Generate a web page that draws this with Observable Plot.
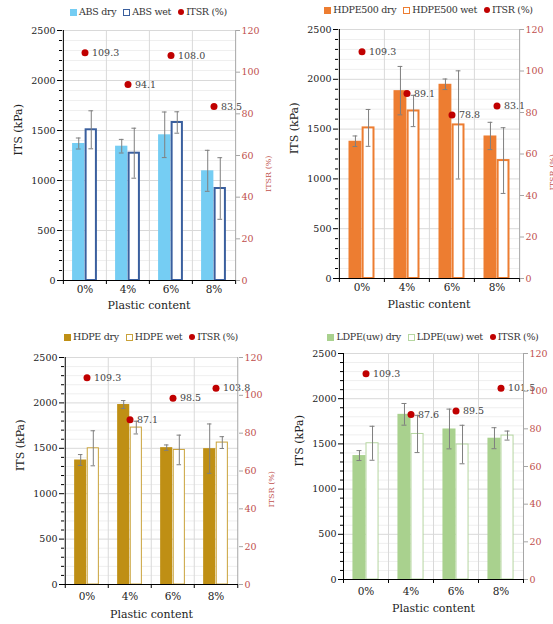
<!DOCTYPE html>
<html><head><meta charset="utf-8">
<script src="https://cdn.jsdelivr.net/npm/d3@7"></script>
<script src="https://cdn.jsdelivr.net/npm/@observablehq/plot@0.6"></script>
<style>
body{margin:0;background:#fff;font-family:"DejaVu Serif",serif;}
#root{position:relative;width:553px;height:624px;overflow:hidden;background:#fff;}
.legend{position:absolute;display:flex;justify-content:center;align-items:center;gap:7px;font-size:9.5px;color:#333;white-space:nowrap;height:14px;line-height:14px;font-family:"DejaVu Serif",serif;letter-spacing:-0.3px;}
.item{display:flex;align-items:center;}
.sw{display:inline-block;width:7px;height:7px;margin-right:2px;box-sizing:border-box;}
.dot{display:inline-block;width:6px;height:6px;border-radius:50%;margin-right:2px;background:#c00000;}
svg text{font-family:"DejaVu Serif",serif;}
</style></head><body><div id="root"></div>
<script>
// ---- data ----
const categories = ["0%", "4%", "6%", "8%"];
const itsTicks = [0, 500, 1000, 1500, 2000, 2500];
const itsrTicks = [0, 20, 40, 60, 80, 100, 120];

const absDry = [1370, 1343, 1457, 1097];
const absDryErr = [55, 68, 228, 205];
const absWet = [1507, 1273, 1580, 920];
const absWetErr = [190, 250, 107, 308];
const absItsr = [109.3, 94.1, 108.0, 83.5];

const hdpe500Dry = [1378, 1886, 1950, 1431];
const hdpe500DryErr = [53, 243, 53, 137];
const hdpe500Wet = [1512, 1682, 1542, 1184];
const hdpe500WetErr = [185, 157, 543, 330];
const hdpe500Itsr = [109.3, 89.1, 78.8, 83.1];

const hdpeDry = [1371, 1982, 1507, 1496];
const hdpeDryErr = [60, 44, 30, 272];
const hdpeWet = [1500, 1728, 1482, 1563];
const hdpeWetErr = [193, 70, 163, 65];
const hdpeItsr = [109.3, 87.1, 98.5, 103.8];

const ldpeDry = [1371, 1827, 1665, 1563];
const ldpeDryErr = [55, 120, 220, 116];
const ldpeWet = [1507, 1610, 1493, 1592];
const ldpeWetErr = [188, 206, 213, 50];
const ldpeItsr = [109.3, 87.6, 89.5, 101.5];

const seriesNames = [
  ["ABS dry", "ABS wet"],
  ["HDPE500 dry", "HDPE500 wet"],
  ["HDPE dry", "HDPE wet"],
  ["LDPE(uw) dry", "LDPE(uw) wet"]
];
const itsrName = "ITSR (%)";

// ---- layout / style ----
const FONT = '"DejaVu Serif", serif';
const RED = "#c00000";
const AXRED = "#c0504d";

const panels = [
  {names: seriesNames[0], dry: absDry, dryErr: absDryErr, wet: absWet, wetErr: absWetErr, itsr: absItsr,
   dryColor: "#75cdf3", wetStroke: "#3a5f9e", wetWidth: 2,
   left: 0, top: 20, width: 276, height: 302, mt: 10, mb: 42, ml: 62, mr: 41, tickPad: 5, titleDy: 25, legendY: 12},
  {names: seriesNames[1], dry: hdpe500Dry, dryErr: hdpe500DryErr, wet: hdpe500Wet, wetErr: hdpe500WetErr, itsr: hdpe500Itsr,
   dryColor: "#ed7d31", wetStroke: "#ed7d31", wetWidth: 2,
   left: 276, top: 19, width: 277, height: 301, mt: 10, mb: 42, ml: 62, mr: 34, tickPad: 5, titleDy: 26, legendY: 10},
  {names: seriesNames[2], dry: hdpeDry, dryErr: hdpeDryErr, wet: hdpeWet, wetErr: hdpeWetErr, itsr: hdpeItsr,
   dryColor: "#bf8f14", wetStroke: "#c9a23a", wetWidth: 1,
   left: 0, top: 347, width: 276, height: 277, mt: 10, mb: 40, ml: 64, mr: 38, tickPad: 8, titleDy: 30, legendY: 337},
  {names: seriesNames[3], dry: ldpeDry, dryErr: ldpeDryErr, wet: ldpeWet, wetErr: ldpeWetErr, itsr: ldpeItsr,
   dryColor: "#a9d18e", wetStroke: "#b5d6a0", wetWidth: 1,
   left: 276, top: 343, width: 277, height: 281, mt: 10, mb: 45, ml: 67, mr: 30, tickPad: 8, titleDy: 29, legendY: 337}
];

const root = document.getElementById("root");

function makePanel(cfg) {
  const W = cfg.width - cfg.ml - cfg.mr;
  const step = W / categories.length;
  const bw = step * 0.29;
  const k = 2500 / 120;
  const rows = categories.map((c, i) => ({
    cat: c, dry: cfg.dry[i], dryErr: cfg.dryErr[i], wet: cfg.wet[i], wetErr: cfg.wetErr[i], itsr: cfg.itsr[i]
  }));
  const minor = d3.range(100, 2501, 100).filter(v => v % 500 !== 0);
  const errStroke = "#7f7f7f";
  const cap = 2.5;

  const svg = Plot.plot({
    width: cfg.width, height: cfg.height,
    marginTop: cfg.mt, marginBottom: cfg.mb, marginLeft: cfg.ml, marginRight: cfg.mr,
    style: {fontFamily: FONT, fontSize: "10px", color: "#222", background: "transparent", overflow: "visible"},
    x: {type: "band", domain: categories, padding: 0, axis: null},
    y: {domain: [0, 2500], axis: null},
    marks: [
      Plot.ruleY(minor, {stroke: "#efefef"}),
      Plot.ruleY(itsTicks.slice(1), {stroke: "#d9d9d9"}),
      Plot.ruleX(categories.slice(1), {dx: -step / 2, stroke: "#d9d9d9"}),
      Plot.barY(rows, {x: "cat", y: "dry", fill: cfg.dryColor, insetLeft: step / 2 - bw, insetRight: step / 2}),
      Plot.barY(rows, {x: "cat", y: "wet", fill: "white", stroke: cfg.wetStroke, strokeWidth: cfg.wetWidth,
        insetLeft: step / 2 + cfg.wetWidth / 2, insetRight: step / 2 - bw + cfg.wetWidth / 2}),
      // error bars
      Plot.ruleX(rows, {x: "cat", y1: d => d.dry - d.dryErr, y2: d => d.dry + d.dryErr, dx: -bw / 2, stroke: errStroke}),
      Plot.tickY(rows, {x: "cat", y: d => d.dry - d.dryErr, dx: -bw / 2, insetLeft: step / 2 - cap, insetRight: step / 2 - cap, stroke: errStroke}),
      Plot.tickY(rows, {x: "cat", y: d => d.dry + d.dryErr, dx: -bw / 2, insetLeft: step / 2 - cap, insetRight: step / 2 - cap, stroke: errStroke}),
      Plot.ruleX(rows, {x: "cat", y1: d => d.wet - d.wetErr, y2: d => d.wet + d.wetErr, dx: bw / 2, stroke: errStroke}),
      Plot.tickY(rows, {x: "cat", y: d => d.wet - d.wetErr, dx: bw / 2, insetLeft: step / 2 - cap, insetRight: step / 2 - cap, stroke: errStroke}),
      Plot.tickY(rows, {x: "cat", y: d => d.wet + d.wetErr, dx: bw / 2, insetLeft: step / 2 - cap, insetRight: step / 2 - cap, stroke: errStroke}),
      // ITSR
      Plot.dot(rows, {x: "cat", y: d => d.itsr * k, r: 3.5, fill: RED, stroke: null}),
      Plot.text(rows, {x: "cat", y: d => d.itsr * k, text: d => d.itsr.toFixed(1), dx: 7, textAnchor: "start", fill: "#444", fontSize: 9.5}),
      // axis lines
      Plot.ruleX([categories[0]], {dx: -step / 2, stroke: "#000"}),
      Plot.ruleX([categories[categories.length - 1]], {dx: step / 2, stroke: "#a6a6a6"}),
      Plot.ruleY([0], {stroke: "#000"}),
      Plot.ruleX(categories, {dx: -step / 2, y1: 0, y2: 0, insetBottom: -4, stroke: "#000"}),
      Plot.ruleX([categories[categories.length - 1]], {dx: step / 2, y1: 0, y2: 0, insetBottom: -4, stroke: "#000"}),
      // axes
      Plot.axisY({ticks: minor, tickSize: 3, tickFormat: () => "", stroke: "#000", label: null}),
      Plot.axisY({ticks: itsTicks, tickSize: 5, tickPadding: 2, tickFormat: d3.format("d"), fill: "#222", stroke: "#000", label: null, fontSize: 9.5}),
      Plot.axisY({anchor: "right", ticks: itsrTicks.map(v => v * k), tickFormat: d => String(Math.round(d / k)), tickSize: 4, tickPadding: 2,
        fill: AXRED, stroke: "#a6a6a6", label: null, fontSize: 9.5}),
      Plot.axisX({tickSize: 0, tickPadding: cfg.tickPad, label: null, fontSize: 10.5, fill: "#222"}),
      // titles
      Plot.text(["Plastic content"], {frameAnchor: "bottom", lineAnchor: "middle", dy: cfg.titleDy, fontSize: 11, fill: "#222"}),
      Plot.text(["ITS (kPa)"], {frameAnchor: "left", lineAnchor: "middle", dx: -44, rotate: -90, fontSize: 11, fill: "#222"}),
      Plot.text([itsrName], {frameAnchor: "right", lineAnchor: "middle", dx: 33, rotate: -90, fontSize: 8, fill: AXRED})
    ]
  });
  svg.style.position = "absolute";
  svg.style.left = cfg.left + "px";
  svg.style.top = cfg.top + "px";
  root.appendChild(svg);

  const lg = document.createElement("div");
  lg.className = "legend";
  lg.style.left = (cfg.left + cfg.ml - 12) + "px";
  lg.style.width = (W + 24) + "px";
  lg.style.top = (cfg.legendY - 7) + "px";
  lg.innerHTML =
    `<span class="item"><span class="sw" style="background:${cfg.dryColor}"></span>${cfg.names[0]}</span>` +
    `<span class="item"><span class="sw" style="background:#fff;border:${cfg.wetWidth > 1 ? 1.5 : 1}px solid ${cfg.wetStroke}"></span>${cfg.names[1]}</span>` +
    `<span class="item"><span class="dot"></span>${itsrName}</span>`;
  root.appendChild(lg);
}

panels.forEach(makePanel);
</script>
</body></html>
